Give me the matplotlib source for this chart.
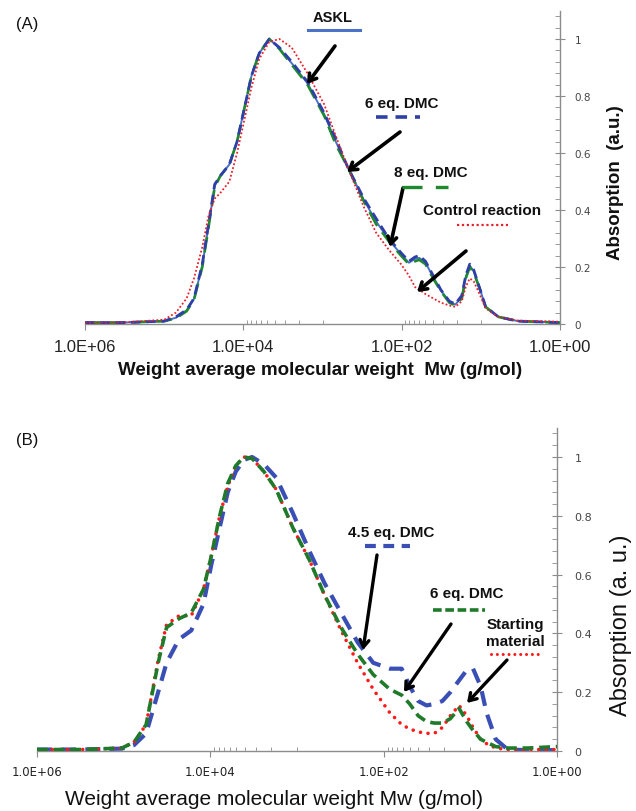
import matplotlib
matplotlib.use('Agg')
import matplotlib.pyplot as plt
import numpy as np
from matplotlib.lines import Line2D
from matplotlib.ticker import FixedLocator, NullFormatter

# ---- panel (A) data, Mw in g/mol ----
mw_a = [1e6, 3.2e5, 1.0e5, 7.1e4, 5.2e4, 4.2e4, 3.3e4, 2.75e4, 2.3e4, 1.95e4,
        1.5e4, 1.2e4, 1.0e4, 7.9e3, 6.3e3, 4.7e3, 3.5e3, 2.45e3, 1.55e3, 9.5e2,
        6.8e2, 4.8e2, 3.0e2, 2.1e2, 1.45e2, 1.02e2, 81, 68, 60, 50,
        40, 32, 25, 21, 17.4, 15.5, 13.8, 12.3, 10.2, 8.7,
        6.0, 3.4, 1.0]
askl_a = [0.005, 0.005, 0.01, 0.022, 0.048, 0.088, 0.205, 0.345, 0.485, 0.52,
          0.56, 0.64, 0.74, 0.87, 0.95, 1.0, 0.967, 0.915, 0.845, 0.735,
          0.64, 0.55, 0.435, 0.36, 0.295, 0.245, 0.215, 0.228, 0.232, 0.215,
          0.165, 0.118, 0.078, 0.068, 0.095, 0.165, 0.205, 0.185, 0.12, 0.06,
          0.025, 0.01, 0.005]
dmc6_a = [0.005, 0.005, 0.01, 0.025, 0.05, 0.09, 0.21, 0.35, 0.49, 0.52,
          0.56, 0.64, 0.74, 0.87, 0.95, 1.0, 0.97, 0.92, 0.85, 0.74,
          0.65, 0.55, 0.44, 0.37, 0.30, 0.25, 0.22, 0.235, 0.24, 0.22,
          0.17, 0.12, 0.08, 0.07, 0.10, 0.17, 0.21, 0.19, 0.12, 0.06,
          0.025, 0.01, 0.005]
dmc8_a = [0.005, 0.005, 0.01, 0.02, 0.045, 0.085, 0.2, 0.34, 0.48, 0.52,
          0.56, 0.64, 0.74, 0.87, 0.95, 1.0, 0.965, 0.91, 0.84, 0.73,
          0.63, 0.55, 0.43, 0.35, 0.29, 0.24, 0.21, 0.22, 0.225, 0.21,
          0.16, 0.115, 0.075, 0.065, 0.09, 0.16, 0.20, 0.18, 0.12, 0.06,
          0.025, 0.01, 0.005]
control_a = [0.005, 0.006, 0.015, 0.04, 0.09, 0.16, 0.27, 0.38, 0.44, 0.46,
             0.5, 0.6, 0.7, 0.83, 0.93, 0.99, 1.0, 0.97, 0.88, 0.77,
             0.66, 0.55, 0.41, 0.32, 0.26, 0.21, 0.17, 0.13, 0.12, 0.105,
             0.09, 0.075, 0.065, 0.06, 0.08, 0.13, 0.16, 0.15, 0.10, 0.055,
             0.025, 0.012, 0.008]

# ---- panel (B) data ----
mw_b = [1e6, 3.1e5, 1.05e5, 7.6e4, 5.5e4, 4.0e4, 3.2e4, 2.3e4, 1.66e4, 1.2e4,
        9.8e3, 7.8e3, 6.3e3, 5.1e3, 4.1e3, 3.3e3, 2.4e3, 1.74e3, 1.12e3, 7.2e2,
        4.8e2, 3.1e2, 2.0e2, 1.32e2, 85, 62, 50, 40, 32, 26,
        21, 17, 13.5, 11, 9.3, 7.6, 6.5, 5.1, 3.7, 2.2,
        1.0]
dmc45_b = [0.005, 0.005, 0.008, 0.02, 0.06, 0.2, 0.3, 0.38, 0.41, 0.5,
           0.63, 0.76, 0.88, 0.95, 0.99, 1.0, 0.975, 0.93, 0.81, 0.68,
           0.57, 0.47, 0.37, 0.30, 0.28, 0.28, 0.22, 0.17, 0.155, 0.16,
           0.17, 0.2, 0.24, 0.275, 0.28, 0.22, 0.13, 0.04, 0.005, 0.003,
           0.003]
dmc6_b = [0.005, 0.005, 0.01, 0.03, 0.09, 0.3, 0.42, 0.45, 0.47, 0.55,
          0.66, 0.8, 0.91, 0.97, 1.0, 0.995, 0.95, 0.89, 0.76, 0.65,
          0.53, 0.42, 0.33, 0.26, 0.21, 0.19, 0.16, 0.12, 0.10, 0.095,
          0.095, 0.11, 0.145, 0.10, 0.07, 0.04, 0.03, 0.015, 0.01, 0.01,
          0.015]
start_b = [0.005, 0.005, 0.01, 0.03, 0.09, 0.31, 0.43, 0.46, 0.46, 0.55,
           0.66, 0.8, 0.9, 0.97, 1.0, 0.995, 0.95, 0.89, 0.76, 0.65,
           0.53, 0.41, 0.30, 0.21, 0.13, 0.09, 0.075, 0.065, 0.06, 0.06,
           0.08, 0.12, 0.155, 0.12, 0.08, 0.04, 0.025, 0.01, 0.005, 0.005,
           0.005]

xticks = [1e6, 1e4, 1e2, 1e0]
xtick_labels = ['1.0E+06', '1.0E+04', '1.0E+02', '1.0E+00']
yticks = [0, 0.2, 0.4, 0.6, 0.8, 1]
ytick_labels = ['0', '0.2', '0.4', '0.6', '0.8', '1']

W, H = 636, 812
fig = plt.figure(figsize=(W / 100, H / 100), dpi=100)


def fp(x, y):
    # pixel position -> figure fraction
    return (x / W, 1 - y / H)


def style_axes(ax, xfont, xsize, xpad, ysize, ypad):
    ax.set_xscale('log')
    ax.set_xlim(1e6, 1)
    ax.set_ylim(0, 1.1)
    for s in ['left', 'top']:
        ax.spines[s].set_visible(False)
    for s in ['right', 'bottom']:
        ax.spines[s].set_color('#8c8c8c')
        ax.spines[s].set_linewidth(1.0)
    ax.yaxis.tick_right()
    ax.set_xticks(xticks)
    ax.set_xticklabels(xtick_labels, fontfamily=xfont, fontsize=xsize, color='#222222')
    minors = [k * 10.0 ** e for e in (3, 1) for k in range(1, 10)]
    ax.xaxis.set_minor_locator(FixedLocator(minors))
    ax.xaxis.set_minor_formatter(NullFormatter())
    ax.set_yticks(yticks)
    ax.set_yticklabels(ytick_labels, fontfamily='DejaVu Sans', fontsize=ysize, color='#444444')
    ax.yaxis.set_minor_locator(FixedLocator(np.round(np.arange(0.04, 1.1, 0.04), 2)))
    ax.tick_params(axis='x', which='major', direction='out', length=4, color='#8c8c8c', pad=xpad)
    ax.tick_params(axis='x', which='minor', direction='in', length=3, color='#8c8c8c')
    ax.tick_params(axis='y', which='major', direction='inout', length=7, color='#8c8c8c', pad=ypad)
    ax.tick_params(axis='y', which='minor', direction='in', length=3.5, color='#8c8c8c')
    ax.patch.set_alpha(0)


def arrow(x0, y0, x1, y1, lw):
    fig.add_artist(matplotlib.patches.FancyArrowPatch(
        fp(x0, y0), fp(x1, y1), transform=fig.transFigure,
        arrowstyle='->,head_length=5,head_width=3.2', lw=lw, color='black',
        shrinkA=0, shrinkB=0))


def sample(x0, x1, y, **kw):
    fig.add_artist(Line2D([x0 / W, x1 / W], [1 - y / H] * 2, transform=fig.transFigure, **kw))


def label(x, y, s, size=11, weight='bold', family='Liberation Sans', **kw):
    fig.text(x / W, 1 - y / H, s, ha='center', va='center', fontsize=size,
             fontweight=weight, fontfamily=family, color='#111111', **kw)


# ================= panel A =================
axA = fig.add_axes([85 / W, 1 - 325 / H, 475 / W, 313.5 / H])
style_axes(axA, 'Liberation Sans', 12, 7, 7.5, 7)
axA.plot(mw_a, askl_a, color='#4a72c6', lw=1.4, zorder=2)
axA.plot(mw_a, dmc8_a, color='#1e8a2e', lw=1.9, dashes=(6, 3), zorder=3)
axA.plot(mw_a, dmc6_a, color='#2f3fa8', lw=2.0, dashes=(3.5, 2), zorder=4)
axA.plot(mw_a, control_a, color='#e8202a', lw=1.3, dashes=(1, 1.2), zorder=5)

label(27, 24, '(A)', size=12, weight='normal')
label(333, 18, 'ASKL', size=10.5)
sample(308, 360, 31, color='#4a72c6', lw=2.2)
label(402, 104, '6 eq. DMC', size=11)
sample(376, 420, 118, color='#2f3fa8', lw=2.6, dashes=(3.2, 2.2))
label(431, 173, '8 eq. DMC', size=11)
sample(402, 448, 188, color='#1e8a2e', lw=2.4, dashes=(6, 4))
label(482, 211, 'Control reaction', size=11)
sample(457, 508, 226, color='#e8202a', lw=1.6, dashes=(1, 1.2))
arrow(335, 47, 307, 85, 2.6)
arrow(400, 133, 347, 173, 2.6)
arrow(403, 189, 390, 248, 2.6)
arrow(466, 252, 417, 293, 2.6)

fig.text(320 / W, 1 - 371 / H, 'Weight average molecular weight  Mw (g/mol)',
         ha='center', va='center', fontsize=13.5, fontweight='bold',
         fontfamily='Liberation Sans', color='#111111')
fig.text(616 / W, 1 - 183 / H, 'Absorption  (a.u.)', ha='center', va='center',
         rotation=90, fontsize=13.5, fontweight='bold', fontfamily='Liberation Sans',
         color='#111111')

# ================= panel B =================
axB = fig.add_axes([37 / W, 1 - 752 / H, 520 / W, 323.4 / H])
style_axes(axB, 'DejaVu Sans', 8.5, 6, 8, 9)
axB.plot(mw_b, dmc45_b, color='#3a4fb5', lw=3.0, dashes=(3.6, 2.2), zorder=2)
axB.plot(mw_b, start_b, color='#ff1a1a', lw=2.6, dashes=(0.01, 2.1),
         dash_capstyle='round', zorder=3)
axB.plot(mw_b, dmc6_b, color='#1f7a2a', lw=2.6, dashes=(3, 1.6), zorder=4)

label(27, 441, '(B)', size=12, weight='normal')
label(391, 533, '4.5 eq. DMC', size=11)
sample(365, 410, 547, color='#3a4fb5', lw=3.0, dashes=(2.6, 1.8))
label(467, 594, '6 eq. DMC', size=11)
sample(433, 485, 611, color='#1f7a2a', lw=2.6, dashes=(2.4, 1.0))
label(515, 625, 'Starting', size=11)
label(515, 642, 'material', size=11)
sample(491, 543, 655, color='#ff1a1a', lw=2.2, dashes=(0.01, 1.9), dash_capstyle='round')
arrow(377, 556, 363, 651, 2.4)
arrow(451, 625, 404, 693, 2.4)
arrow(507, 661, 467, 704, 2.4)

fig.text(274 / W, 1 - 800 / H, 'Weight average molecular weight Mw (g/mol)',
         ha='center', va='center', fontsize=15, fontfamily='Liberation Sans',
         color='#111111')
fig.text(621 / W, 1 - 625 / H, 'Absorption (a. u.)', ha='center', va='center',
         rotation=90, fontsize=17, fontfamily='Liberation Sans', color='#111111')

fig.savefig('out.png', dpi=100)
